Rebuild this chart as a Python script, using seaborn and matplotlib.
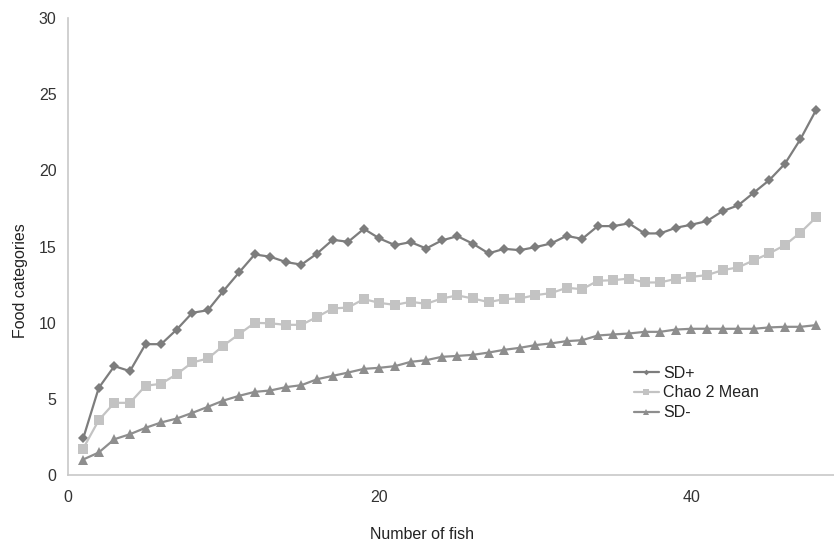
import matplotlib
matplotlib.use("Agg")
import matplotlib.pyplot as plt
import seaborn as sns
import pandas as pd
import numpy as np

fish = list(range(1, 49))

sd_plus = [2.41, 5.73, 7.16, 6.83, 8.60, 8.60, 9.56, 10.66, 10.83, 12.10,
           13.31, 14.49, 14.34, 13.99, 13.82, 14.55, 15.45, 15.32, 16.17, 15.54,
           15.10, 15.30, 14.88, 15.41, 15.69, 15.19, 14.56, 14.86, 14.77, 14.97,
           15.21, 15.71, 15.51, 16.35, 16.35, 16.53, 15.87, 15.87, 16.24, 16.44,
           16.68, 17.33, 17.71, 18.54, 19.37, 20.44, 22.06, 23.97]

chao_mean = [1.75, 3.61, 4.75, 4.75, 5.87, 6.00, 6.63, 7.40, 7.66, 8.51,
             9.26, 10.00, 9.97, 9.87, 9.87, 10.39, 10.94, 11.01, 11.56, 11.31,
             11.18, 11.38, 11.25, 11.60, 11.80, 11.60, 11.36, 11.56, 11.60, 11.82,
             11.95, 12.30, 12.21, 12.76, 12.80, 12.91, 12.65, 12.65, 12.89, 13.02,
             13.13, 13.46, 13.64, 14.10, 14.56, 15.10, 15.93, 16.92]

sd_minus = [1.03, 1.49, 2.36, 2.69, 3.11, 3.46, 3.72, 4.09, 4.49, 4.90,
            5.21, 5.47, 5.56, 5.78, 5.91, 6.30, 6.52, 6.74, 6.98, 7.05,
            7.16, 7.44, 7.55, 7.77, 7.83, 7.90, 8.05, 8.23, 8.36, 8.54,
            8.65, 8.80, 8.86, 9.17, 9.24, 9.30, 9.41, 9.41, 9.56, 9.61,
            9.61, 9.61, 9.61, 9.61, 9.70, 9.74, 9.74, 9.85]

series_names = ["SD+", "Chao 2 Mean", "SD-"]

df = pd.concat([
    pd.DataFrame({"fish": fish, "value": vals, "series": name})
    for name, vals in zip(series_names, [sd_plus, chao_mean, sd_minus])
])

sns.set_style("white")
plt.rcParams["font.family"] = ["Liberation Sans", "DejaVu Sans"]

fig = plt.figure(figsize=(8.34, 5.5), dpi=100)
ax = fig.add_axes([0.081, 0.136, 0.919, 0.831])

palette = {"SD+": "#7d7d7d", "Chao 2 Mean": "#c3c3c3", "SD-": "#8e8e8e"}
markers = {"SD+": "D", "Chao 2 Mean": "s", "SD-": "^"}

sns.lineplot(data=df, x="fish", y="value", hue="series", style="series",
             hue_order=series_names, style_order=series_names,
             palette=palette, markers=markers, dashes=False,
             markersize=6.5, markeredgewidth=0, linewidth=1.6, ax=ax)

# diamonds are a bit smaller in the original
for line in ax.lines:
    if line.get_marker() == "D":
        line.set_markersize(4.8)

ax.set_xlim(0, 49.15)
ax.set_ylim(0, 30)
ax.set_xticks([0, 20, 40])
ax.set_yticks(range(0, 31, 5))

for side in ["top", "right"]:
    ax.spines[side].set_visible(False)
for side in ["left", "bottom"]:
    ax.spines[side].set_color("#c8c8c8")
    ax.spines[side].set_linewidth(1.2)

fs = 11.5
ax.tick_params(axis="both", which="major", length=4, width=1, color="#c8c8c8",
               labelsize=fs, labelcolor="#333333", direction="out")
ax.tick_params(axis="x", pad=7)
ax.tick_params(axis="y", pad=4)

ax.set_xlabel("Number of fish", fontsize=fs, color="#222222")
ax.set_ylabel("Food categories", fontsize=fs, color="#222222")
ax.xaxis.set_label_coords(0.463, -0.114)
ax.yaxis.set_label_coords(-0.052, 0.425)

handles, labels = ax.get_legend_handles_labels()
for h in handles:
    if h.get_marker() == "D":
        h.set_markersize(4.8)
ax.legend(handles, labels, loc="center left", bbox_to_anchor=(0.72, 0.18),
          frameon=False, fontsize=fs, handlelength=1.55, handletextpad=0.3,
          labelspacing=0.3, markerscale=0.6, labelcolor="#222222")

fig.savefig("out.png", dpi=100)
